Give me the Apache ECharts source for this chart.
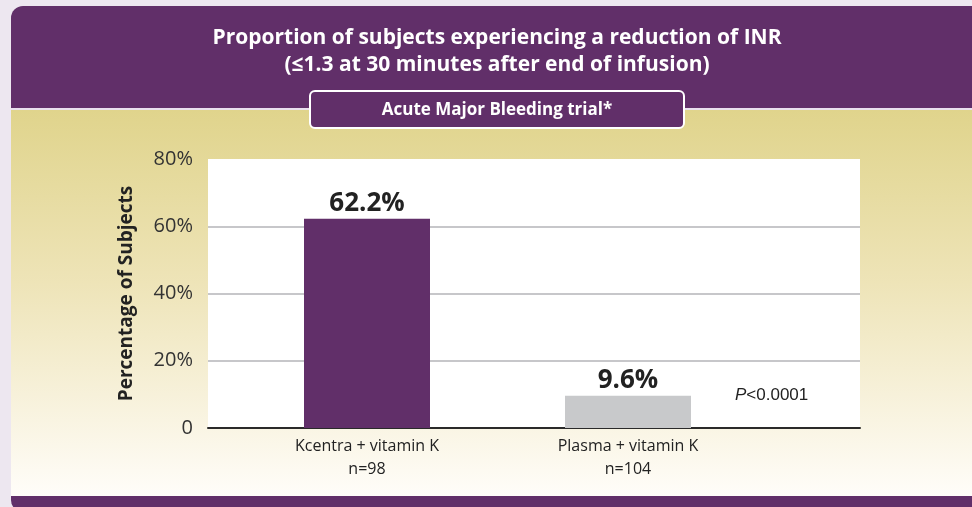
<!DOCTYPE html>
<html>
<head>
<meta charset="utf-8">
<script src="https://cdn.jsdelivr.net/npm/echarts@6/dist/echarts.min.js"></script>
<style>
html,body{margin:0;padding:0;background:#ede7f0;}
#chart{width:972px;height:507px;}
</style>
</head>
<body>
<div id="chart"></div>
<script>
// ---- data ----
var titleLines = ['Proportion of subjects experiencing a reduction of INR', '(\u22641.3 at 30 minutes after end of infusion)'];
var subtitle = 'Acute Major Bleeding trial*';
var categories = ['Kcentra + vitamin K', 'Plasma + vitamin K'];
var nLabels = ['n=98', 'n=104'];
var values = [62.2, 9.6];
var yTicks = [0, 20, 40, 60, 80];
var yAxisName = 'Percentage of Subjects';
var pValueText = '<0.0001';

var FONT = '"Open Sans", "Noto Sans", sans-serif';
var PURPLE = '#612f69';
var barColors = [PURPLE, '#c8c9cb'];

var chart = echarts.init(document.getElementById('chart'), null, {renderer: 'canvas'});

var option = {
  backgroundColor: '#ede7f0',
  animation: false,
  textStyle: {fontFamily: FONT},
  graphic: [
    // panel (purple header + bottom band)
    {type: 'rect', z: -10, shape: {x: 11, y: 6, width: 1000, height: 506, r: 12}, style: {fill: PURPLE}},
    // separator line
    {type: 'rect', z: -9, shape: {x: 11, y: 108, width: 1000, height: 2}, style: {fill: '#e9e0ee'}},
    // khaki gradient body
    {type: 'rect', z: -8, shape: {x: 11, y: 110, width: 1000, height: 386},
      style: {fill: new echarts.graphic.LinearGradient(0, 0, 0, 1, [
        {offset: 0, color: '#e0d48c'},
        {offset: 0.45, color: '#eee4b8'},
        {offset: 1, color: '#fffdf9'}
      ])}},
    // title
    {type: 'text', z: 5, x: 497, y: 38, style: {text: titleLines[0], fill: '#fff', font: 'bold 21px ' + FONT, align: 'center', verticalAlign: 'middle'}},
    {type: 'text', z: 5, x: 497, y: 65, style: {text: titleLines[1], fill: '#fff', font: 'bold 21px ' + FONT, align: 'center', verticalAlign: 'middle'}},
    // subtitle box
    {type: 'rect', z: 5, shape: {x: 310, y: 91, width: 374, height: 37, r: 5}, style: {fill: PURPLE, stroke: '#ffffff', lineWidth: 2}},
    {type: 'text', z: 6, x: 497, y: 110, style: {text: subtitle, fill: '#fff', font: 'bold 17px ' + FONT, align: 'center', verticalAlign: 'middle'}},
    // p value
    {type: 'text', z: 6, x: 735, y: 395, style: {
      text: '{i|P}{n|' + pValueText + '}', verticalAlign: 'middle',
      rich: {
        i: {fontStyle: 'italic', fontSize: 17, fontFamily: '"Liberation Sans", Arial, sans-serif', fill: '#222'},
        n: {fontSize: 17, fontFamily: '"Liberation Sans", Arial, sans-serif', fill: '#222'}
      }}}
  ],
  grid: [
    {left: 208, top: 159, width: 652, height: 269, show: true, backgroundColor: '#ffffff', borderWidth: 0},
    {left: 236.5, top: 159, width: 522, height: 269}
  ],
  xAxis: [
    {gridIndex: 0, type: 'value', min: 0, max: 1, axisLine: {show: true, onZero: false, lineStyle: {color: '#2a2a2a', width: 2}},
      axisTick: {show: false}, axisLabel: {show: false}, splitLine: {show: false}},
    {gridIndex: 1, type: 'category', data: categories, axisLine: {show: false}, axisTick: {show: false},
      axisLabel: {margin: 7, color: '#222', fontSize: 16, lineHeight: 23, fontFamily: FONT,
        formatter: function (v, i) { return v + '\n' + nLabels[i]; }}}
  ],
  yAxis: [
    {gridIndex: 0, type: 'value', min: yTicks[0], max: yTicks[yTicks.length - 1], interval: yTicks[1] - yTicks[0],
      name: yAxisName, nameLocation: 'middle', nameGap: 72,
      nameTextStyle: {fontSize: 19, fontWeight: 'bold', color: '#222', fontFamily: FONT},
      axisLine: {show: false}, axisTick: {show: false},
      axisLabel: {margin: 15, fontSize: 20, color: '#333', fontFamily: FONT,
        formatter: function (v) { return v === 0 ? '0' : v + '%'; }},
      splitLine: {show: true, lineStyle: {width: 1.5, color: ['rgba(0,0,0,0)', '#b4b4b8', '#b4b4b8', '#b4b4b8', 'rgba(0,0,0,0)']}}},
    {gridIndex: 1, type: 'value', min: yTicks[0], max: yTicks[yTicks.length - 1], show: false}
  ],
  series: [{
    type: 'bar', xAxisIndex: 1, yAxisIndex: 1, barWidth: 126,
    data: values.map(function (v, i) { return {value: v, itemStyle: {color: barColors[i]}}; }),
    label: {show: true, position: 'top', distance: 2, fontSize: 26, fontWeight: 'bold', color: '#222', fontFamily: FONT,
      formatter: function (p) { return p.value + '%'; }}
  }]
};
chart.setOption(option);
</script>
</body>
</html>
